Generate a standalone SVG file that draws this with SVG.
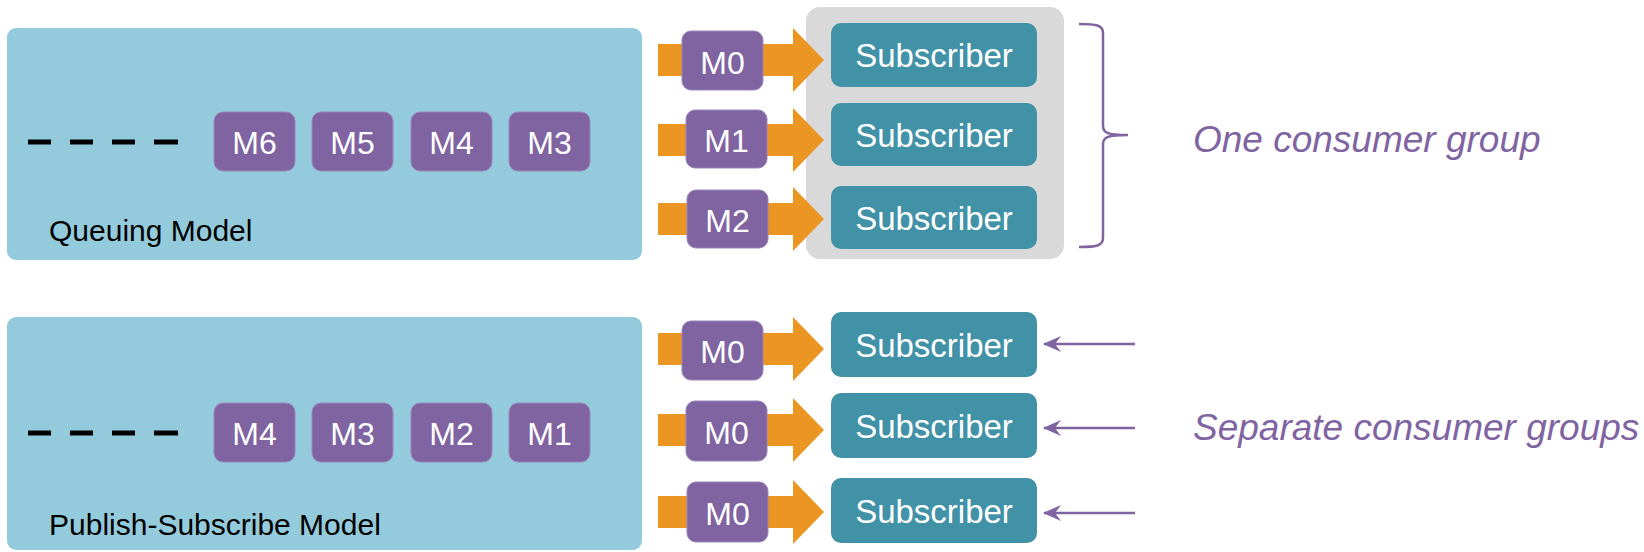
<svg xmlns="http://www.w3.org/2000/svg" width="1644" height="552" viewBox="0 0 1644 552">
<defs>
<style>
.panel{fill:#93CBDC}
.msg{fill:#8064A2;stroke:#9A85BA;stroke-width:1}
.msgt{font-family:"Liberation Sans",Arial,sans-serif;font-size:32px;fill:#fff;text-anchor:middle}
.sub{fill:#4192A7}
.subt{font-family:"Liberation Sans",Arial,sans-serif;font-size:33px;fill:#fff;text-anchor:middle}
.lbl{font-family:"Liberation Sans",Arial,sans-serif;font-size:30px;fill:#000}
.note{font-family:"Liberation Sans",Arial,sans-serif;font-size:37px;font-style:italic;fill:#8064A2}
.flow{fill:#EB9523}
.dash{stroke:#000;stroke-width:5}
.parrow{stroke:#8064A2;stroke-width:2.5;fill:none}
</style>
<marker id="ph" markerWidth="18" markerHeight="16" viewBox="0 0 18 16" refX="17" refY="8" orient="auto" markerUnits="userSpaceOnUse">
<path d="M0,0 L18,8 L0,16 L6,8 Z" fill="#8064A2"/>
</marker>
</defs>

<g id="queuing-panel">
<rect class="panel" x="7" y="28" width="635" height="232" rx="9"/>
<line class="dash" x1="28" y1="142" x2="51" y2="142"/>
<line class="dash" x1="70" y1="142" x2="93" y2="142"/>
<line class="dash" x1="112" y1="142" x2="135" y2="142"/>
<line class="dash" x1="154" y1="142" x2="178" y2="142"/>
<text class="lbl" x="49" y="241">Queuing Model</text>
</g>
<g id="q-m6"><rect class="msg" x="214" y="112" width="81" height="59" rx="9"/><text class="msgt" x="254.5" y="154">M6</text></g>
<g id="q-m5"><rect class="msg" x="312" y="112" width="81" height="59" rx="9"/><text class="msgt" x="352.5" y="154">M5</text></g>
<g id="q-m4"><rect class="msg" x="411" y="112" width="81" height="59" rx="9"/><text class="msgt" x="451.5" y="154">M4</text></g>
<g id="q-m3"><rect class="msg" x="509" y="112" width="81" height="59" rx="9"/><text class="msgt" x="549.5" y="154">M3</text></g>

<g id="pubsub-panel">
<rect class="panel" x="7" y="317" width="635" height="233" rx="9"/>
<line class="dash" x1="28" y1="433" x2="51" y2="433"/>
<line class="dash" x1="70" y1="433" x2="93" y2="433"/>
<line class="dash" x1="112" y1="433" x2="135" y2="433"/>
<line class="dash" x1="154" y1="433" x2="178" y2="433"/>
<text class="lbl" x="49" y="535">Publish-Subscribe Model</text>
</g>
<g id="p-m4"><rect class="msg" x="214" y="403" width="81" height="59" rx="9"/><text class="msgt" x="254.5" y="445">M4</text></g>
<g id="p-m3"><rect class="msg" x="312" y="403" width="81" height="59" rx="9"/><text class="msgt" x="352.5" y="445">M3</text></g>
<g id="p-m2"><rect class="msg" x="411" y="403" width="81" height="59" rx="9"/><text class="msgt" x="451.5" y="445">M2</text></g>
<g id="p-m1"><rect class="msg" x="509" y="403" width="81" height="59" rx="9"/><text class="msgt" x="549.5" y="445">M1</text></g>

<g id="consumer-group">
<rect x="806" y="7" width="258" height="252" rx="14" fill="#D9D9D9"/>
</g>

<g id="connectors">
<path class="flow" d="M658,44 H793 V28 L824,60 L793,92 V76 H658 Z"/>
<path class="flow" d="M658,124 H793 V108 L824,140 L793,172 V156 H658 Z"/>
<path class="flow" d="M658,203 H793 V187 L824,219 L793,251 V235 H658 Z"/>
<path class="flow" d="M658,333 H793 V317 L824,349 L793,381 V365 H658 Z"/>
<path class="flow" d="M658,414 H793 V398 L824,430 L793,462 V446 H658 Z"/>
<path class="flow" d="M658,496 H793 V480 L824,512 L793,544 V528 H658 Z"/>
<line class="parrow" x1="1135" y1="344" x2="1044" y2="344" marker-end="url(#ph)"/>
<line class="parrow" x1="1135" y1="428" x2="1044" y2="428" marker-end="url(#ph)"/>
<line class="parrow" x1="1135" y1="513" x2="1044" y2="513" marker-end="url(#ph)"/>
</g>

<g id="q-m0"><rect class="msg" x="682" y="31" width="81" height="59" rx="9"/><text class="msgt" x="722.5" y="73.5">M0</text></g>
<g id="q-m1"><rect class="msg" x="686" y="110" width="81" height="58" rx="9"/><text class="msgt" x="726.5" y="151.5">M1</text></g>
<g id="q-m2"><rect class="msg" x="687" y="190" width="81" height="58" rx="9"/><text class="msgt" x="727.5" y="231.5">M2</text></g>
<g id="p-m0a"><rect class="msg" x="682" y="321" width="81" height="59" rx="9"/><text class="msgt" x="722.5" y="363">M0</text></g>
<g id="p-m0b"><rect class="msg" x="686" y="401" width="81" height="60" rx="9"/><text class="msgt" x="726.5" y="443.5">M0</text></g>
<g id="p-m0c"><rect class="msg" x="687" y="482" width="81" height="60" rx="9"/><text class="msgt" x="727.5" y="524.5">M0</text></g>

<g id="q-sub1"><rect class="sub" x="831" y="23" width="206" height="64" rx="10"/><text class="subt" x="934" y="67">Subscriber</text></g>
<g id="q-sub2"><rect class="sub" x="831" y="103" width="206" height="63" rx="10"/><text class="subt" x="934" y="146.5">Subscriber</text></g>
<g id="q-sub3"><rect class="sub" x="831" y="186" width="206" height="63" rx="10"/><text class="subt" x="934" y="229.5">Subscriber</text></g>
<g id="p-sub1"><rect class="sub" x="831" y="312" width="206" height="65" rx="10"/><text class="subt" x="934" y="356.5">Subscriber</text></g>
<g id="p-sub2"><rect class="sub" x="831" y="393" width="206" height="65" rx="10"/><text class="subt" x="934" y="437.5">Subscriber</text></g>
<g id="p-sub3"><rect class="sub" x="831" y="478" width="206" height="65" rx="10"/><text class="subt" x="934" y="522.5">Subscriber</text></g>

<g id="bracket">
<path d="M1079,24 C1096,24 1103,25 1103,33 L1103,126 C1103,133 1108,135 1128,135 C1108,135 1103,137 1103,144 L1103,238 C1103,246 1096,247 1079,247" fill="none" stroke="#8064A2" stroke-width="2.5"/>
</g>
<g id="note-one"><text class="note" x="1193" y="152">One consumer group</text></g>
<g id="note-separate"><text class="note" x="1193" y="440">Separate consumer groups</text></g>
</svg>
